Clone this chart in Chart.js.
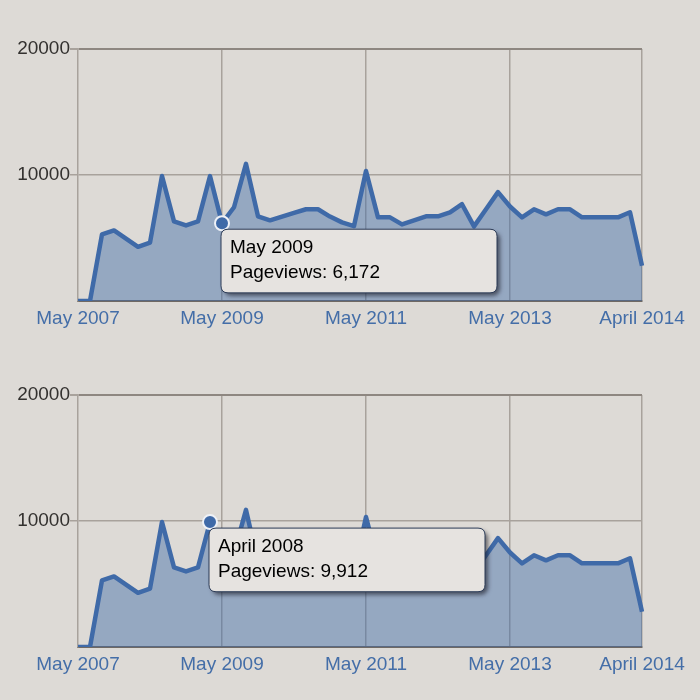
<!DOCTYPE html>
<html>
<head>
<meta charset="utf-8">
<script src="https://cdn.jsdelivr.net/npm/chart.js@4/dist/chart.umd.min.js"></script>
<style>
  html, body { margin: 0; padding: 0; background: #dddad6; }
  canvas { display: block; }
</style>
</head>
<body>
<canvas id="top" width="700" height="345"></canvas>
<canvas id="bottom" width="700" height="355"></canvas>
<script>
const pageviews = [
  0, 0, 5280, 5600, 4950, 4300, 4640, 9920, 6320, 6000, 6320, 9912,
  6172, 7440, 10880, 6720, 6400, 6700, 7000, 7280, 7280, 6700, 6240, 5950,
  10320, 6640, 6640, 6080, 6400, 6720, 6720, 7040, 7680, 5920, 7280, 8640,
  7500, 6640, 7280, 6880, 7280, 7280, 6640, 6640, 6640, 6640, 7040, 2800
];
const tickIndexes = [0, 12, 24, 36, 47];
const tickLabels = ['May 2007', 'May 2009', 'May 2011', 'May 2013', 'April 2014'];
const yMax = 20000;
const yStep = 10000;
const hovered = [
  { index: 12, title: 'May 2009' },
  { index: 11, title: 'April 2008' }
];

const FONT = "'Liberation Sans', Arial, Helvetica, sans-serif";
const GRID = '#a8a29c';

const categories = pageviews.map((_, i) => {
  const t = tickIndexes.indexOf(i);
  return t >= 0 ? tickLabels[t] : '';
});

// tooltip box sits below and right of the point, no caret
Chart.Tooltip.positioners.belowRight = (items) => {
  if (!items.length) return false;
  const { x, y } = items[0].element;
  return { x: x + 6, y };
};

const tooltipShadow = {
  id: 'tooltipShadow',
  beforeTooltipDraw(chart, { tooltip }) {
    tooltip.width = 276;
    const { ctx } = chart;
    ctx.save();
    ctx.shadowColor = 'rgba(20, 20, 30, 0.6)';
    ctx.shadowBlur = 4;
    ctx.shadowOffsetX = 3;
    ctx.shadowOffsetY = 3;
    ctx.fillStyle = '#e6e3e0';
    ctx.beginPath();
    ctx.roundRect(tooltip.x, tooltip.y, tooltip.width, tooltip.height, 7);
    ctx.fill();
    ctx.restore();
  }
};

const makeChart = (canvas, hover, padTop, padBottom) => {
  const chart = new Chart(canvas, {
    type: 'line',
    data: {
      labels: categories,
      datasets: [{
        label: 'Pageviews',
        data: pageviews,
        borderColor: '#3f6aa8',
        borderWidth: 4.5,
        borderJoinStyle: 'round',
        backgroundColor: 'rgba(63, 106, 168, 0.45)',
        fill: 'origin',
        tension: 0,
        pointRadius: 0,
        pointHoverRadius: 7,
        pointHoverBorderWidth: 2,
        pointHoverBackgroundColor: '#3f6aa8',
        pointHoverBorderColor: '#eef1f7'
      }]
    },
    options: {
      responsive: false,
      animation: false,
      events: [],
      layout: { padding: { left: 18, right: 58, top: padTop, bottom: padBottom } },
      plugins: {
        legend: { display: false },
        tooltip: {
          position: 'belowRight',
          xAlign: 'left',
          yAlign: 'top',
          caretSize: 0,
          caretPadding: 6,
          cornerRadius: 7,
          backgroundColor: '#e6e3e0',
          borderColor: '#2b3b57',
          borderWidth: 1,
          titleColor: '#000',
          bodyColor: '#000',
          titleFont: { family: FONT, size: 19, weight: 'normal' },
          bodyFont: { family: FONT, size: 19 },
          titleMarginBottom: 2,
          padding: { top: 7, bottom: 9, left: 9, right: 10 },
          displayColors: false,
          callbacks: {
            title: () => hover.title,
            label: (item) => 'Pageviews: ' + item.parsed.y.toLocaleString('en-US')
          }
        }
      },
      scales: {
        x: {
          grid: {
            drawTicks: false,
            lineWidth: 1.5,
            color: (c) => (c.index > 0 && tickIndexes.includes(c.index) ? GRID : 'transparent')
          },
          border: { color: '#6f6964', width: 2 },
          ticks: {
            autoSkip: false,
            maxRotation: 0,
            padding: 6,
            color: '#446ea8',
            font: { family: FONT, size: 19 },
            callback: (v, i) => categories[i]
          },
          afterFit: (s) => { s.height = 29; }
        },
        y: {
          min: 0,
          max: yMax,
          ticks: {
            stepSize: yStep,
            padding: 0,
            color: '#33312f',
            font: { family: FONT, size: 19 },
            callback: (v) => (v === 0 ? '' : String(v))
          },
          grid: {
            tickLength: 8,
            lineWidth: (c) => (c.tick && c.tick.value === yMax ? 2 : 1.5),
            color: (c) => {
              if (!c.tick || c.tick.value === 0) return 'transparent';
              return c.tick.value === yMax ? '#8e8781' : GRID;
            },
            tickColor: (c) => (c.tick && c.tick.value === 0 ? 'transparent' : GRID)
          },
          border: { color: GRID, width: 1.5 },
          afterFit: (s) => { s.width = 60; }
        }
      }
    },
    plugins: [tooltipShadow]
  });

  const active = [{ datasetIndex: 0, index: hover.index }];
  chart.setActiveElements(active);
  chart.tooltip.setActiveElements(active, { x: 0, y: 0 });
  chart.update();
  return chart;
};

makeChart(document.getElementById('top'), hovered[0], 49, 15);
makeChart(document.getElementById('bottom'), hovered[1], 50, 24);
</script>
</body>
</html>
